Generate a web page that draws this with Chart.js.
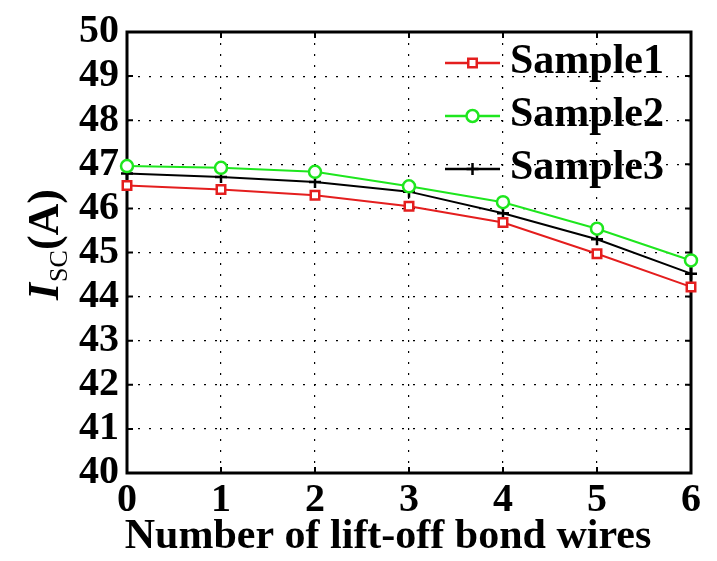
<!DOCTYPE html>
<html>
<head>
<meta charset="utf-8">
<script src="https://cdn.jsdelivr.net/npm/chart.js@4/dist/chart.umd.min.js"></script>
<style>
  html, body { margin: 0; padding: 0; background: #fff; }
  #wrap { width: 717px; height: 561px; }
</style>
</head>
<body>
<div id="wrap"><canvas id="isc-chart"></canvas></div>
<script>
// values
const xLabels = ['0', '1', '2', '3', '4', '5', '6'];
const sample1 = [46.52, 46.43, 46.30, 46.05, 45.68, 44.97, 44.22];
const sample2 = [46.96, 46.92, 46.83, 46.50, 46.14, 45.54, 44.82];
const sample3 = [46.79, 46.71, 46.60, 46.38, 45.89, 45.30, 44.52];
const seriesNames = ['Sample1', 'Sample2', 'Sample3'];
const yMin = 40, yMax = 50;

const SERIF = '"Liberation Serif", "Times New Roman", serif';
const RED = '#e41e1e';
const GREEN = '#1ee61e';

// thick box round the plot + inward tick marks (matlab look)
const framePlugin = {
    id: 'frame',
    beforeDatasetsDraw(chart) {
        const { ctx, chartArea: a, scales: { x, y } } = chart;
        ctx.save();
        ctx.strokeStyle = '#000';
        ctx.lineWidth = 2;
        ctx.beginPath();
        x.ticks.forEach((t, i) => {
            const px = x.getPixelForTick(i);
            ctx.moveTo(px, a.bottom); ctx.lineTo(px, a.bottom - 6);
            ctx.moveTo(px, a.top); ctx.lineTo(px, a.top + 6);
        });
        y.ticks.forEach((t, i) => {
            const py = y.getPixelForTick(i);
            ctx.moveTo(a.left, py); ctx.lineTo(a.left + 6, py);
            ctx.moveTo(a.right, py); ctx.lineTo(a.right - 6, py);
        });
        ctx.stroke();
        ctx.lineWidth = 3;
        ctx.strokeRect(a.left, a.top, a.right - a.left, a.bottom - a.top);
        ctx.restore();
    }
};

// axis titles (y has a subscript, so draw by hand)
const titlesPlugin = {
    id: 'titles',
    afterDraw(chart) {
        const { ctx } = chart;
        ctx.save();
        ctx.fillStyle = '#000';
        ctx.textBaseline = 'alphabetic';
        ctx.textAlign = 'center';
        ctx.font = 'bold 42px ' + SERIF;
        ctx.fillText('Number of lift-off bond wires', 388, 548);

        ctx.translate(58, 300);
        ctx.rotate(-Math.PI / 2);
        ctx.textAlign = 'left';
        let cx = 0;
        ctx.font = 'italic bold 44px ' + SERIF;
        ctx.fillText('I', cx, 0);
        cx += ctx.measureText('I').width + 1;
        ctx.font = '26px ' + SERIF;
        ctx.fillText('SC', cx, 9);
        cx += ctx.measureText('SC').width;
        ctx.font = 'bold 44px ' + SERIF;
        ctx.fillText('(A)', cx, 0);
        ctx.restore();
    }
};

// legend inside the top-right of the plot
const legendPlugin = {
    id: 'insideLegend',
    afterDraw(chart) {
        const { ctx, chartArea: a } = chart;
        ctx.save();
        chart.data.datasets.forEach((ds, i) => {
            const rowY = a.top + 31 + i * 53;
            const x0 = a.right - 246, x1 = a.right - 191;
            ctx.strokeStyle = ds.borderColor;
            ctx.lineWidth = 2.5;
            ctx.beginPath();
            ctx.moveTo(x0, rowY); ctx.lineTo(x1, rowY);
            ctx.stroke();
            ctx.fillStyle = ds.pointBackgroundColor;
            ctx.lineWidth = ds.pointBorderWidth;
            Chart.helpers.drawPoint(ctx, {
                pointStyle: ds.pointStyle, rotation: 0,
                radius: ds.pointRadius, borderWidth: ds.pointBorderWidth
            }, (x0 + x1) / 2, rowY);
            ctx.fillStyle = '#000';
            ctx.font = 'bold 42px ' + SERIF;
            ctx.textAlign = 'left';
            ctx.textBaseline = 'alphabetic';
            ctx.fillText(ds.label, a.right - 181, rowY + 10);
        });
        ctx.restore();
    }
};

function series(label, data, color, style, bg) {
    return {
        label: label,
        data: data,
        borderColor: color,
        borderWidth: 2,
        pointStyle: style,
        pointRadius: 6,
        pointBorderWidth: 2.5,
        pointBorderColor: color,
        pointBackgroundColor: bg,
        tension: 0
    };
}

new Chart(document.getElementById('isc-chart'), {
    type: 'line',
    data: {
        labels: xLabels,
        datasets: [
            series(seriesNames[0], sample1, RED, 'rect', '#fff'),
            series(seriesNames[1], sample2, GREEN, 'circle', '#fff'),
            series(seriesNames[2], sample3, '#000', 'cross', '#000')
        ]
    },
    options: {
        responsive: true,
        maintainAspectRatio: false,
        animation: false,
        layout: { padding: { left: 0, top: 25, right: 26, bottom: 0 } },
        plugins: {
            legend: { display: false },
            tooltip: { enabled: false }
        },
        scales: {
            x: {
                type: 'category',
                offset: false,
                grid: { color: '#000', lineWidth: 1.2, drawTicks: false },
                border: { display: false, dash: [2, 9] },
                ticks: {
                    color: '#000',
                    padding: 4,
                    maxRotation: 0,
                    autoSkip: false,
                    font: { family: SERIF, size: 40, weight: 'bold' }
                },
                afterFit: s => { s.height = 88; }
            },
            y: {
                min: yMin,
                max: yMax,
                grid: { color: '#000', lineWidth: 1.2, drawTicks: false },
                border: { display: false, dash: [2, 9] },
                ticks: {
                    stepSize: 1,
                    autoSkip: false,
                    color: '#000',
                    padding: 8,
                    font: { family: SERIF, size: 40, weight: 'bold' }
                },
                afterFit: s => { s.width = 127; }
            }
        }
    },
    plugins: [framePlugin, titlesPlugin, legendPlugin]
});
</script>
</body>
</html>
